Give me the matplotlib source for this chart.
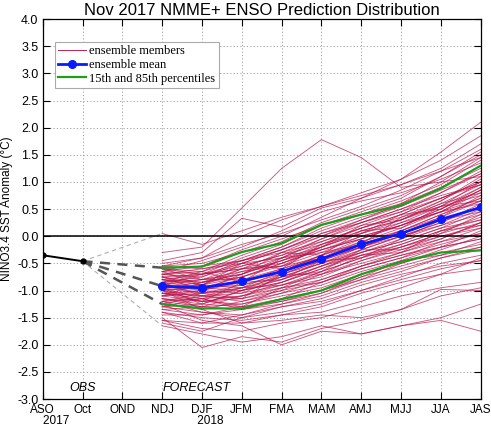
import numpy as np
import matplotlib
matplotlib.use('Agg')
import matplotlib.pyplot as plt

# ----------------------------------------------------------------------- #
# Data read off the Nov 2017 NMME+ plume
seasons = ['ASO', 'Oct', 'OND', 'NDJ', 'DJF', 'JFM', 'FMA', 'MAM', 'AMJ', 'MJJ', 'JJA', 'JAS']
years = {'ASO': '2017', 'DJF': '2018'}
obs_x = [0, 1]
obs_vals = [-0.35, -0.46]

fcst_x = [3, 4, 5, 6, 7, 8, 9, 10, 11]
ens_mean = [-0.92, -0.95, -0.83, -0.65, -0.42, -0.15, 0.05, 0.31, 0.53]
pct85 = [-0.58, -0.56, -0.29, -0.13, 0.21, 0.40, 0.57, 0.88, 1.30]
pct15 = [-1.25, -1.33, -1.33, -1.16, -1.00, -0.70, -0.47, -0.30, -0.26]

members = [
    [-0.55, -0.40, 0.00, 0.30, 0.55, 0.80, 1.05, 1.40, 1.85],
    [-0.60, -0.65, -0.35, -0.10, 0.25, 0.50, 0.75, 1.10, 1.55],
    [-0.70, -0.60, -0.45, -0.20, 0.10, 0.35, 0.55, 0.90, 1.30],
    [-0.75, -0.85, -0.70, -0.45, -0.15, 0.15, 0.40, 0.70, 1.00],
    [-0.80, -0.90, -0.75, -0.55, -0.30, 0.00, 0.20, 0.45, 0.70],
    [-0.85, -0.95, -0.90, -0.70, -0.45, -0.20, 0.05, 0.30, 0.55],
    [-0.90, -1.00, -0.85, -0.60, -0.40, -0.10, 0.10, 0.40, 0.65],
    [-0.95, -1.05, -1.00, -0.85, -0.60, -0.35, -0.15, 0.10, 0.35],
    [-1.00, -1.10, -1.05, -0.90, -0.75, -0.45, -0.25, 0.00, 0.20],
    [-1.05, -1.15, -1.10, -0.95, -0.80, -0.55, -0.35, -0.15, 0.05],
    [-1.10, -1.20, -1.25, -1.10, -0.95, -0.70, -0.50, -0.30, -0.15],
    [-1.20, -1.30, -1.35, -1.20, -1.05, -0.80, -0.60, -0.40, -0.25],
    [-1.30, -1.40, -1.45, -1.30, -1.15, -0.90, -0.70, -0.55, -0.45],
    [-1.40, -1.50, -1.55, -1.45, -1.30, -1.05, -0.85, -0.70, -0.60],
    [-1.55, -1.70, -1.75, -1.60, -1.50, -1.30, -1.10, -0.95, -0.85],
    [-1.65, -1.80, -1.95, -1.85, -1.65, -1.80, -1.65, -1.55, -1.75],
    [-1.50, -2.05, -1.85, -1.95, -1.70, -1.55, -1.35, -1.10, -0.95],
    [0.05, -0.15, 0.10, 0.35, 0.55, 0.75, 0.95, 1.20, 1.45],
    [-0.30, -0.20, 0.52, 1.25, 1.78, 1.45, 0.90, 1.00, 1.10],
    [-0.45, -0.30, 0.33, 0.17, 0.52, 0.70, 0.95, 1.25, 1.70],
    [-0.65, -0.55, -0.25, 0.00, 0.35, 0.70, 1.05, 1.55, 2.10],
    [-0.70, -0.75, -0.50, -0.25, 0.05, 0.30, 0.60, 1.00, 1.45],
    [-0.85, -0.80, -0.55, -0.35, -0.05, 0.20, 0.45, 0.80, 1.20],
    [-0.95, -0.90, -0.65, -0.45, -0.20, 0.05, 0.30, 0.60, 0.95],
    [-1.05, -1.00, -0.80, -0.60, -0.35, -0.10, 0.15, 0.45, 0.80],
    [-0.75, -0.70, -0.60, -0.50, -0.25, -0.05, 0.20, 0.50, 0.85],
    [-0.90, -0.95, -1.00, -0.80, -0.55, -0.30, -0.05, 0.20, 0.40],
    [-1.15, -1.20, -1.10, -0.85, -0.60, -0.30, -0.10, 0.15, 0.45],
    [-1.25, -1.35, -1.20, -1.00, -0.70, -0.45, -0.20, 0.05, 0.25],
    [-0.60, -0.55, -0.45, -0.30, -0.10, 0.15, 0.35, 0.55, 0.75],
    [-0.80, -0.85, -0.75, -0.50, -0.20, 0.10, 0.30, 0.55, 0.90],
    [-1.00, -0.95, -0.75, -0.50, -0.25, -0.05, 0.25, 0.55, 1.00],
    [-1.10, -1.05, -0.90, -0.75, -0.50, -0.25, 0.00, 0.25, 0.60],
    [-1.35, -1.30, -1.10, -0.90, -0.65, -0.40, -0.15, 0.10, 0.30],
    [-1.45, -1.45, -1.35, -1.15, -0.85, -0.55, -0.35, -0.20, -0.05],
    [-1.20, -1.40, -1.50, -1.40, -1.25, -1.00, -0.75, -0.50, -0.35],
    [-0.95, -1.25, -1.30, -1.15, -1.00, -0.75, -0.45, -0.20, 0.10],
    [-0.85, -1.10, -1.15, -1.00, -0.85, -0.60, -0.40, -0.10, 0.15],
    [-1.00, -1.35, -1.60, -1.45, -1.40, -1.20, -0.95, -0.70, -0.40],
    [-1.25, -1.55, -1.65, -2.00, -1.75, -1.80, -1.65, -1.50, -1.25],
    [-1.40, -1.60, -1.60, -1.55, -1.45, -1.50, -1.35, -0.98, -1.00],
    [-0.70, -0.80, -0.80, -0.70, -0.50, -0.30, -0.10, 0.15, 0.30],
    [-0.55, -0.60, -0.50, -0.40, -0.20, 0.05, 0.25, 0.45, 0.60],
    [-0.65, -0.70, -0.55, -0.35, -0.15, 0.10, 0.30, 0.65, 1.05],
    [-0.85, -0.75, -0.45, -0.20, 0.15, 0.40, 0.60, 0.90, 1.25],
    [-0.95, -0.85, -0.60, -0.30, 0.00, 0.30, 0.55, 0.85, 1.15],
    [-1.10, -1.00, -0.70, -0.40, -0.10, 0.15, 0.40, 0.70, 1.00],
    [-1.15, -1.25, -1.00, -0.70, -0.45, -0.20, 0.05, 0.35, 0.65],
    [-1.20, -1.15, -0.95, -0.80, -0.55, -0.35, -0.20, 0.00, 0.15],
    [-0.75, -0.90, -0.95, -0.90, -0.70, -0.50, -0.30, -0.10, 0.05],
    [-1.05, -1.10, -1.20, -1.05, -0.90, -0.65, -0.45, -0.35, -0.20],
    [-0.90, -0.80, -0.65, -0.55, -0.40, -0.20, 0.00, 0.20, 0.50],
    [-0.65, -0.45, -0.20, 0.10, 0.45, 0.65, 0.80, 1.05, 1.35],
    [-0.50, -0.40, -0.15, 0.05, 0.30, 0.55, 0.85, 1.20, 1.60],
    [-0.80, -0.70, -0.40, -0.15, 0.20, 0.45, 0.70, 1.10, 1.50],
    [-1.00, -0.90, -0.50, -0.25, 0.05, 0.25, 0.50, 0.75, 0.95],
    [-1.30, -1.25, -1.00, -0.85, -0.55, -0.25, 0.00, 0.25, 0.55],
    [-1.35, -1.45, -1.30, -1.20, -1.00, -0.80, -0.50, -0.25, 0.00],
    [-1.55, -1.60, -1.45, -1.25, -1.10, -0.85, -0.65, -0.40, -0.20],
    [-0.60, -0.70, -0.60, -0.40, -0.05, 0.25, 0.50, 0.80, 1.15],
    [-0.90, -1.05, -0.95, -0.75, -0.50, -0.20, 0.10, 0.35, 0.75],
    [-1.15, -1.30, -1.25, -1.05, -0.80, -0.55, -0.30, -0.05, 0.25],
    [-0.80, -0.95, -0.85, -0.65, -0.35, -0.05, 0.20, 0.45, 0.85],
    [-1.05, -1.20, -1.15, -0.95, -0.65, -0.40, -0.20, 0.05, 0.40],
    [-0.70, -0.65, -0.45, -0.25, 0.00, 0.25, 0.45, 0.70, 0.95],
    [-1.25, -1.10, -0.95, -0.65, -0.35, -0.15, 0.10, 0.40, 0.70],
    [-0.95, -1.15, -1.35, -1.25, -1.05, -0.75, -0.55, -0.35, -0.10],
    [-1.60, -1.75, -1.50, -1.30, -1.20, -1.00, -0.80, -0.60, -0.45],
    [-0.55, -0.50, -0.30, -0.05, 0.20, 0.40, 0.65, 0.95, 1.40],
    [-1.10, -0.85, -0.70, -0.45, -0.25, 0.00, 0.20, 0.50, 0.85],
    [-0.65, -0.90, -0.60, -0.55, -0.20, 0.20, 0.30, 0.60, 0.80],
    [-0.85, -0.65, -0.85, -0.40, -0.30, -0.15, 0.35, 0.65, 1.10],
    [-1.00, -1.20, -0.85, -0.80, -0.45, -0.40, -0.05, 0.30, 0.45],
    [-1.20, -1.05, -1.15, -0.70, -0.70, -0.35, -0.30, 0.10, 0.20],
    [-0.75, -1.00, -1.05, -0.75, -0.65, -0.25, -0.25, -0.05, 0.25],
    [-0.90, -0.70, -0.50, -0.60, -0.15, 0.05, 0.40, 0.50, 0.90],
    [-1.30, -1.15, -1.30, -0.95, -0.85, -0.60, -0.40, -0.20, -0.05],
    [-0.60, -0.80, -0.70, -0.30, -0.35, 0.10, 0.15, 0.55, 0.65],
]

# ----------------------------------------------------------------------- #
plt.rcParams['font.family'] = ['Liberation Sans', 'DejaVu Sans']

fig = plt.figure(figsize=(4.91, 4.25), dpi=100)
ax = fig.add_axes([0.087, 0.061, 0.892, 0.894])

memb_col = '#b8124a'
for i, m in enumerate(members):
    ax.plot(fcst_x, m, color=memb_col, lw=0.65, alpha=0.7,
            label='ensemble members' if i == 0 else None, zorder=2)

# connectors from last obs to first forecast season
x0, y0 = obs_x[-1], obs_vals[-1]
first = [m[0] for m in members]
for yv in [max(first), min(first)]:
    ax.plot([x0, fcst_x[0]], [y0, yv], color='#b0b0b0', lw=0.8, ls=(0, (4, 3)), zorder=3)
for yv in [pct85[0], ens_mean[0], pct15[0]]:
    ax.plot([x0, fcst_x[0]], [y0, yv], color='#555555', lw=1.8, ls=(0, (4, 3)), zorder=3)

ax.plot(fcst_x, pct85, color='#1ca01c', lw=1.6, zorder=4, label='15th and 85th percentiles')
ax.plot(fcst_x, pct15, color='#1ca01c', lw=1.6, zorder=4)
ax.plot(fcst_x, ens_mean, color='#0a1aff', lw=2.0, marker='o', ms=5.5, zorder=5,
        label='ensemble mean')
ax.plot(obs_x, obs_vals, color='black', lw=1.4, marker='o', ms=3.5, zorder=5)

ax.axhline(0, color='black', lw=1.1, zorder=3)

# season labels, with the year under the first season of each year
# (leading spaces nudge the year a little right of the tick, as in the original)
xlabels = []
for s in seasons:
    if s in years:
        nudge = 8 if s == 'ASO' else 5
        xlabels.append(s + '\n' + ' ' * nudge + years[s])
    else:
        xlabels.append(s)

ax.set_xlim(0, 11)
ax.set_ylim(-3, 4)
ax.set_xticks(range(len(seasons)))
ax.set_xticklabels(xlabels, fontsize=8.5, linespacing=0.9)
ax.set_yticks(np.arange(-3, 4.01, 0.5))
ax.set_yticklabels(['%.1f' % v for v in np.arange(-3, 4.01, 0.5)], fontsize=9)
ax.tick_params(direction='in', length=5, width=0.8, top=True, right=True,
               labeltop=False, labelright=False)
ax.tick_params(axis='x', pad=3.5)
ax.tick_params(axis='y', pad=3)
ax.grid(True, color='#999999', ls=(0, (1.5, 2.5)), lw=0.6)
for s in ax.spines.values():
    s.set_linewidth(0.9)

ax.text(1, -2.79, 'OBS', fontsize=9, style='italic', ha='center', va='center')
ax.text(3, -2.79, 'FORECAST', fontsize=9, style='italic', ha='left', va='center')

ax.set_ylabel('NINO3.4 SST Anomaly (\u00b0C)', fontsize=8.5)
ax.yaxis.set_label_coords(-0.068, 0.5)
ax.set_title('Nov 2017 NMME+ ENSO Prediction Distribution', fontsize=12, pad=3)

handles, labels = ax.get_legend_handles_labels()
order = [labels.index(l) for l in ['ensemble members', 'ensemble mean', '15th and 85th percentiles']]
leg = ax.legend([handles[i] for i in order], [labels[i] for i in order],
                loc='upper left', bbox_to_anchor=(0.028, 0.94), fancybox=False,
                prop={'family': 'Liberation Serif', 'size': 9}, handlelength=2.2,
                handletextpad=0.3, borderpad=0.25, labelspacing=0.15, framealpha=1,
                borderaxespad=0)
leg.get_frame().set_edgecolor('#aaaaaa')
leg.get_frame().set_linewidth(0.8)
leg.legend_handles[0].set_alpha(1)

fig.savefig('out.png', dpi=100)
